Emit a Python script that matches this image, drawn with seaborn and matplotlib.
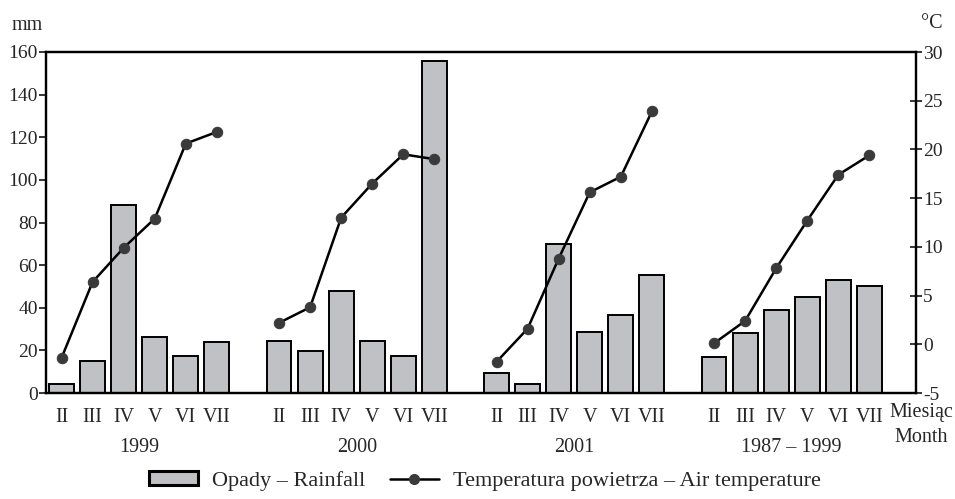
import matplotlib
matplotlib.use("Agg")
import matplotlib.pyplot as plt
from matplotlib.patches import Patch
from matplotlib.lines import Line2D
from matplotlib.transforms import blended_transform_factory
import seaborn as sns
import numpy as np
import pandas as pd

# data
groups = ["1999", "2000", "2001", "1987 – 1999"]
months = ["II", "III", "IV", "V", "VI", "VII"]

rain_1999 = [4, 15, 88, 26.5, 17.5, 24]
rain_2000 = [24.5, 19.5, 48, 24.5, 17.5, 156]
rain_2001 = [9.5, 4, 70, 28.5, 36.5, 55.5]
rain_norm = [17, 28, 39, 45, 53, 50]

temp_1999 = [-1.4, 6.4, 9.9, 12.9, 20.6, 21.8]
temp_2000 = [2.2, 3.8, 13.0, 16.5, 19.5, 19.0]
temp_2001 = [-1.8, 1.6, 8.8, 15.6, 17.2, 23.9]
temp_norm = [0.1, 2.4, 7.8, 12.7, 17.4, 19.4]

rain = [rain_1999, rain_2000, rain_2001, rain_norm]
temp = [temp_1999, temp_2000, temp_2001, temp_norm]

# one empty slot after every group
slots_per_group = len(months) + 1

rows = []
for g, name in enumerate(groups):
    for m, month in enumerate(months):
        rows.append({
            "group": name,
            "month": month,
            "pos": g * slots_per_group + m + 0.5,
            "rain": rain[g][m],
            "temp": temp[g][m],
        })
df = pd.DataFrame(rows)

sns.set_style("white")
plt.rcParams["font.family"] = ["Liberation Serif", "DejaVu Serif"]
plt.rcParams["axes.unicode_minus"] = False

fig = plt.figure(figsize=(9.55, 4.99), dpi=100)
ax = fig.add_axes([46 / 955, 1 - 393 / 499, (916 - 46) / 955, (393 - 52) / 499])

bar_color = "#c0c1c4"
marker_color = "#3a3a3a"
sns.barplot(data=df, x="pos", y="rain", native_scale=True, color=bar_color,
            saturation=1, edgecolor="black", linewidth=1.4, ax=ax, zorder=2)

ax.set_xlim(0, len(groups) * slots_per_group)
ax.set_ylim(0, 160)
ax.set_yticks(np.arange(0, 161, 20))
ax.set_xlabel("")
ax.set_ylabel("")

ax.set_xticks(df["pos"])
ax.set_xticklabels(df["month"])
edges = []
for g in range(len(groups)):
    edges += [g * slots_per_group + i for i in range(len(months) + 1)]
ax.set_xticks(edges, minor=True)
ax.tick_params(axis="x", which="major", length=0, pad=11, labelsize=14.5)
ax.tick_params(axis="x", which="minor", length=7, width=1.3, direction="inout")
ax.tick_params(axis="y", which="major", length=5, width=1.3, direction="out",
               pad=1, labelsize=14, left=True)

for side in ax.spines.values():
    side.set_linewidth(1.6)
    side.set_color("black")

trans = blended_transform_factory(ax.transData, ax.transAxes)
for g, name in enumerate(groups):
    ax.text(g * slots_per_group + len(months) / 2, -0.173, name, transform=trans,
            ha="center", va="baseline", fontsize=14.5)

ax2 = ax.twinx()
sns.lineplot(data=df, x="pos", y="temp", units="group", estimator=None,
             color="black", linewidth=1.8, marker="o", markersize=7.5,
             markerfacecolor=marker_color, markeredgecolor=marker_color,
             legend=False, ax=ax2)
ax2.set_ylim(-5, 30)
ax2.set_yticks(np.arange(-5, 31, 5))
ax2.set_xlim(0, len(groups) * slots_per_group)
ax2.set_xlabel("")
ax2.set_ylabel("")
ax2.tick_params(axis="y", which="major", length=8, width=1.3, direction="inout",
                pad=1, labelsize=14, right=True)
for side in ax2.spines.values():
    side.set_linewidth(1.6)
    side.set_color("black")

fig.text(12 / 955, 1 - 30 / 499, "mm", fontsize=14.5, ha="left", va="baseline")
fig.text(921 / 955, 1 - 28 / 499, "°C", fontsize=14.5, ha="left", va="baseline")
fig.text(953 / 955, 1 - 417 / 499, "Miesiąc", fontsize=14.5, ha="right", va="baseline")
fig.text(948 / 955, 1 - 442 / 499, "Month", fontsize=14.5, ha="right", va="baseline")

handles = [
    Patch(facecolor=bar_color, edgecolor="black", linewidth=2.2),
    Line2D([], [], color="black", linewidth=1.8, marker="o", markersize=7,
           markerfacecolor=marker_color, markeredgecolor=marker_color),
]
fig.legend(handles, ["Opady – Rainfall", "Temperatura powietrza – Air temperature"],
           loc="center", bbox_to_anchor=(485 / 955, 1 - 481 / 499), ncol=2,
           frameon=False, fontsize=16, handlelength=2.2, handleheight=0.55,
           columnspacing=1.1, handletextpad=0.63)

fig.savefig("out.png", dpi=100)
